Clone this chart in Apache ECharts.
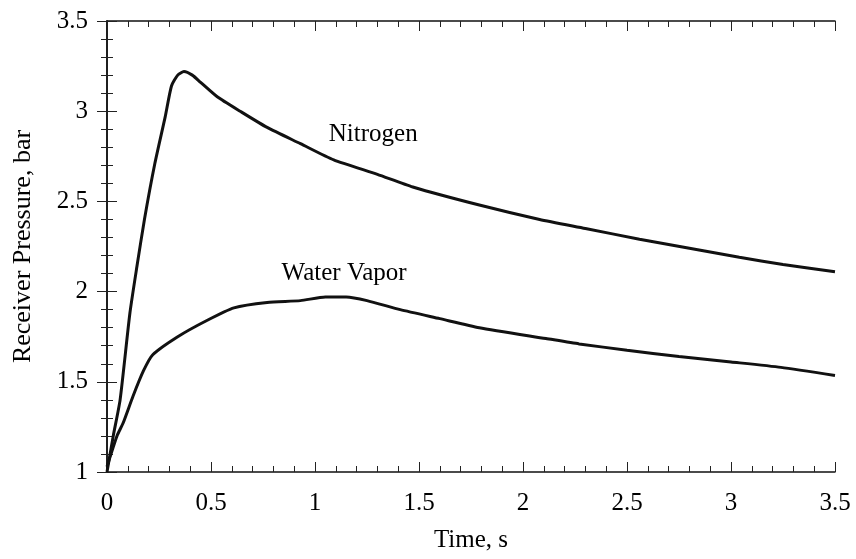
<!DOCTYPE html>
<html>
<head>
<meta charset="utf-8">
<script src="https://cdn.jsdelivr.net/npm/echarts@6/dist/echarts.min.js"></script>
<style>
html,body{margin:0;padding:0;background:#fff;}
#chart{width:856px;height:559px;}
</style>
</head>
<body>
<div id="chart"></div>
<script>
// Data
const nitrogenTime = [0, 0.03, 0.063, 0.11, 0.144, 0.18, 0.23, 0.28, 0.31, 0.34, 0.37, 0.41, 0.45, 0.53, 0.64, 0.77, 0.93, 1.09, 1.3, 1.47, 1.79, 2.08, 2.3, 2.56, 2.8, 3.04, 3.25, 3.5];
const nitrogenPressure = [1.0, 1.2, 1.4, 1.88, 2.14, 2.4, 2.71, 2.97, 3.14, 3.2, 3.22, 3.2, 3.16, 3.08, 3.0, 2.91, 2.82, 2.73, 2.65, 2.58, 2.48, 2.4, 2.35, 2.29, 2.24, 2.19, 2.15, 2.11];
const waterTime = [0, 0.048, 0.077, 0.125, 0.175, 0.22, 0.34, 0.48, 0.61, 0.77, 0.93, 1.05, 1.15, 1.25, 1.41, 1.6, 1.79, 2.11, 2.27, 2.5, 2.75, 3.0, 3.24, 3.5];
const waterPressure = [1.03, 1.2, 1.27, 1.42, 1.56, 1.65, 1.75, 1.84, 1.91, 1.94, 1.95, 1.97, 1.97, 1.95, 1.9, 1.85, 1.8, 1.74, 1.71, 1.675, 1.64, 1.61, 1.58, 1.535];
const xTickLabels = ['0', '0.5', '1', '1.5', '2', '2.5', '3', '3.5'];
const yTickLabels = ['1', '1.5', '2', '2.5', '3', '3.5'];
const annotationTexts = ['Nitrogen', 'Water Vapor'];
const annotationTime = [1.28, 1.14];
const annotationPressure = [2.87, 2.10];

const FONT = '"Liberation Serif", "Times New Roman", serif';
const zip = (a, b) => a.map((v, i) => [v, b[i]]);
const fmtX = v => { const i = Math.round(v / 0.5); return Math.abs(v - i * 0.5) < 1e-6 ? xTickLabels[i] : ''; };
const fmtY = v => { const i = Math.round((v - 1) / 0.5); return Math.abs(v - 1 - i * 0.5) < 1e-6 ? yTickLabels[i] : ''; };

const axisLine = {show: true, lineStyle: {color: '#111', width: 1.5}};
const tick = {show: true, inside: true, length: 10, lineStyle: {color: '#222', width: 1}};
const minor = {show: true, splitNumber: 5, length: 6, lineStyle: {color: '#222', width: 1}};

const chart = echarts.init(document.getElementById('chart'));
chart.setOption({
  backgroundColor: '#fff',
  animation: false,
  grid: {left: 107, right: 21, top: 21, bottom: 87, containLabel: false, outerBoundsMode: 'none'},
  xAxis: [
    {type: 'value', min: 0, max: 3.5, interval: 0.5, position: 'bottom',
     axisLine, axisTick: tick, minorTick: minor, splitLine: {show: false},
     axisLabel: {formatter: fmtX, fontFamily: FONT, fontSize: 25, color: '#000', margin: 19},
     name: 'Time, s', nameLocation: 'middle', nameGap: 56,
     nameTextStyle: {fontFamily: FONT, fontSize: 25, color: '#000'}},
    {type: 'value', min: 0, max: 3.5, interval: 0.5, position: 'top',
     axisLine, axisTick: tick, minorTick: minor, splitLine: {show: false},
     axisLabel: {show: false}}
  ],
  yAxis: [
    {type: 'value', min: 1, max: 3.5, interval: 0.5, position: 'left',
     axisLine, axisTick: tick, minorTick: minor, splitLine: {show: false},
     axisLabel: {formatter: fmtY, fontFamily: FONT, fontSize: 25, color: '#000', margin: 19},
     name: 'Receiver Pressure, bar', nameLocation: 'middle', nameGap: 71,
     nameTextStyle: {fontFamily: FONT, fontSize: 26, color: '#000'}},
    {type: 'value', min: 1, max: 3.5, interval: 0.5, position: 'right',
     axisLine, axisTick: tick, minorTick: minor, splitLine: {show: false},
     axisLabel: {show: false}}
  ],
  series: [
    {type: 'line', name: 'Nitrogen', data: zip(nitrogenTime, nitrogenPressure),
     showSymbol: false, smooth: 0.2, lineStyle: {color: '#111', width: 3}},
    {type: 'line', name: 'Water Vapor', data: zip(waterTime, waterPressure),
     showSymbol: false, smooth: 0.2, lineStyle: {color: '#111', width: 3}}
  ]
});

// Annotations placed through the chart's own scales
chart.setOption({
  graphic: annotationTexts.map((txt, i) => {
    const pt = chart.convertToPixel({xAxisIndex: 0, yAxisIndex: 0}, [annotationTime[i], annotationPressure[i]]);
    return {type: 'text', x: pt[0], y: pt[1], silent: true,
            style: {text: txt, fill: '#000', font: '25px ' + FONT, align: 'center', verticalAlign: 'middle'}};
  })
});
</script>
</body>
</html>
